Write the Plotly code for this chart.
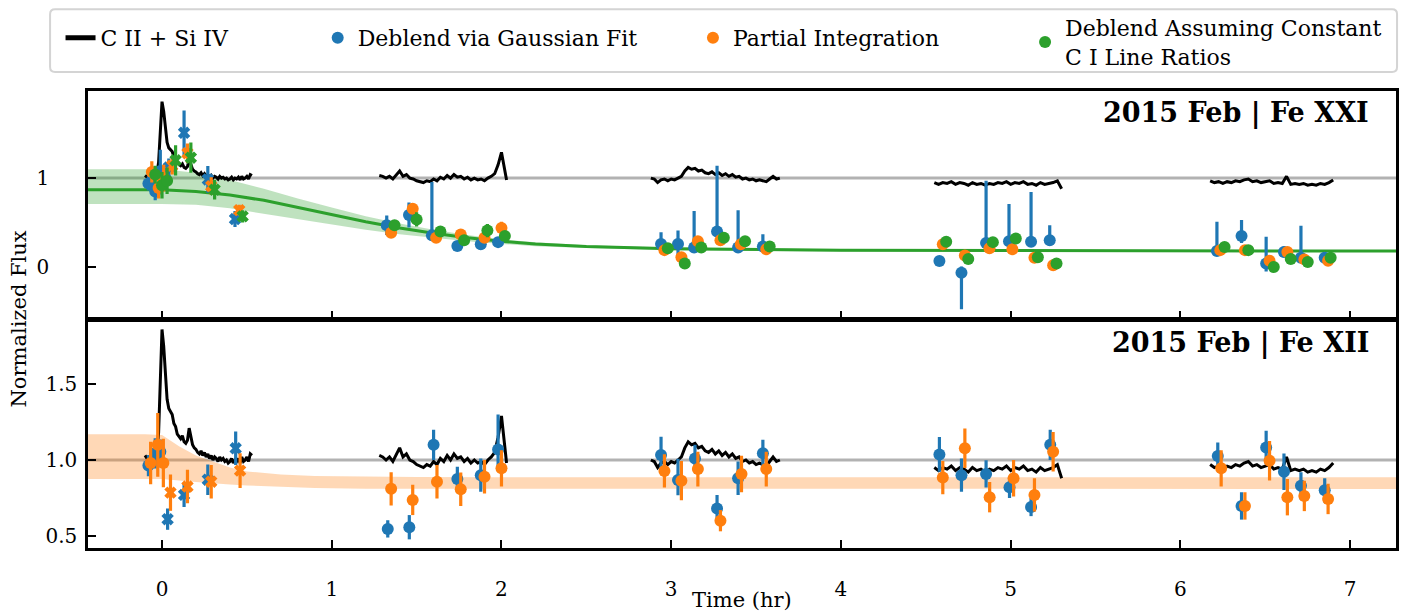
import plotly.graph_objects as go

# ---------------- data ----------------
# C II + Si IV light curve (normalized), five observing segments
lc1_t = [-0.10,-0.09,-0.08,-0.07,-0.06,-0.05,-0.04,-0.03,-0.02,-0.01,0.00,0.01,0.02,0.03,0.04,0.05,0.06,0.07,0.08,0.09,
         0.10,0.11,0.12,0.13,0.14,0.15,0.16,0.17,0.18,0.19,0.20,0.21,0.22,0.23,0.24,0.25,0.26,0.27,0.28,0.29,
         0.30,0.31,0.32,0.33,0.34,0.35,0.36,0.37,0.38,0.39,0.40,0.41,0.42,0.43,0.44,0.45,0.46,0.47,0.48,0.49,
         0.50,0.51,0.52,0.53]
lc1_f = [1.03,1.01,0.99,0.98,1.00,0.99,1.01,1.05,1.18,1.55,1.86,1.75,1.55,1.40,1.34,1.32,1.30,1.24,1.22,1.17,
         1.15,1.14,1.16,1.12,1.11,1.13,1.21,1.14,1.10,1.08,1.07,1.05,1.04,1.06,1.03,1.05,1.02,1.04,1.01,1.03,
         1.00,1.02,1.01,0.99,1.02,1.00,1.01,0.99,1.00,0.98,0.99,1.01,0.98,1.00,0.99,1.01,0.98,1.02,0.99,1.00,
         1.02,0.99,1.04,1.03]
lc2_t = [1.28,1.30,1.32,1.34,1.36,1.38,1.40,1.42,1.44,1.46,1.48,1.50,1.52,1.54,1.56,1.58,1.60,1.62,1.64,1.66,
         1.68,1.70,1.72,1.74,1.76,1.78,1.80,1.82,1.84,1.86,1.88,1.90,1.92,1.94,1.96,1.98,2.00,2.02,2.03]
lc2_f = [1.03,1.02,1.00,1.02,0.99,1.04,1.08,1.02,1.04,1.00,0.99,0.97,0.96,0.95,0.97,0.96,0.99,0.97,1.01,0.99,
         1.03,1.00,1.04,1.01,1.02,0.99,1.01,0.98,1.00,0.98,0.99,0.97,1.00,1.02,1.05,1.15,1.29,1.10,0.98]
lc3_t = [2.88,2.90,2.92,2.94,2.96,2.98,3.00,3.02,3.04,3.06,3.08,3.10,3.12,3.14,3.16,3.18,3.20,3.22,3.24,3.26,
         3.28,3.30,3.32,3.34,3.36,3.38,3.40,3.42,3.44,3.46,3.48,3.50,3.52,3.54,3.56,3.58,3.60,3.62,3.64]
lc3_f = [1.00,0.99,0.95,0.98,0.99,0.97,0.99,0.98,1.00,1.02,1.08,1.12,1.10,1.11,1.08,1.09,1.06,1.05,1.07,1.04,
         1.06,1.03,1.05,1.02,1.04,1.01,1.02,0.99,1.00,0.98,0.99,0.97,0.98,0.97,0.96,0.99,1.02,0.99,1.00]
lc4_t = [4.550,4.575,4.600,4.625,4.650,4.675,4.700,4.725,4.750,4.775,4.800,4.825,4.850,4.875,4.900,4.925,
         4.950,4.975,5.000,5.025,5.050,5.075,5.100,5.125,5.150,5.175,5.200,5.225,5.250,5.275,5.300]
lc4_f = [0.95,0.93,0.95,0.94,0.96,0.93,0.95,0.94,0.92,0.95,0.93,0.94,0.92,0.94,0.93,0.95,
         0.94,0.96,0.93,0.95,0.94,0.96,0.93,0.94,0.92,0.95,0.93,0.94,0.95,0.97,0.88]
lc5_t = [6.175,6.200,6.225,6.250,6.275,6.300,6.325,6.350,6.375,6.400,6.425,6.450,6.475,6.500,6.525,
         6.550,6.575,6.600,6.625,6.650,6.675,6.700,6.725,6.750,6.775,6.800,6.825,6.850,6.875,6.900]
lc5_f = [0.97,0.95,0.96,0.94,0.96,0.95,0.97,0.96,0.98,0.99,0.96,0.97,0.95,0.96,0.97,
         0.94,0.95,0.94,1.02,0.93,0.94,0.93,0.94,0.92,0.93,0.92,0.94,0.93,0.95,0.98]

# Fe XXI model fit (green) and its uncertainty band
fit21_t   = [-0.44,-0.2,0.0,0.2,0.4,0.6,0.8,1.0,1.2,1.4,1.6,1.8,2.0,2.2,2.5,3.0,3.5,4.0,5.0,6.0,7.27]
fit21_f   = [0.87,0.87,0.87,0.85,0.81,0.75,0.67,0.59,0.51,0.44,0.38,0.33,0.29,0.26,0.23,0.205,0.195,0.19,0.185,0.18,0.18]
fit21_hi  = [1.10,1.10,1.10,1.06,0.98,0.88,0.77,0.67,0.57,0.49,0.42,0.36,0.31,0.28,0.245,0.22,0.21,0.20,0.195,0.19,0.19]
fit21_lo  = [0.71,0.71,0.71,0.70,0.66,0.60,0.54,0.48,0.42,0.37,0.33,0.29,0.26,0.235,0.215,0.19,0.18,0.175,0.17,0.17,0.17]
# Fe XII model band (orange)
fit12_t   = [-0.44,-0.1,0.0,0.1,0.2,0.3,0.4,0.5,0.7,0.9,1.2,1.5,2.0,3.0,7.27]
fit12_hi  = [1.17,1.17,1.165,1.09,1.03,0.99,0.95,0.925,0.905,0.895,0.89,0.888,0.886,0.886,0.886]
fit12_lo  = [0.875,0.875,0.874,0.865,0.855,0.845,0.838,0.832,0.822,0.815,0.811,0.81,0.809,0.809,0.809]

# ---- Fe XXI points ----
fe21_gauss_t  = [-0.08,-0.04,-0.01,0.02,1.324,1.455,1.59,1.74,1.878,1.98,2.94,3.04,3.135,3.27,3.394,3.54,
                 4.58,4.71,4.855,4.99,5.12,5.23,6.215,6.36,6.505,6.61,6.71,6.85]
fe21_gauss_f  = [0.94,0.85,1.08,1.00,0.47,0.585,0.356,0.236,0.255,0.28,0.26,0.26,0.22,0.40,0.22,0.23,
                 0.067,-0.064,0.27,0.29,0.285,0.30,0.18,0.35,0.04,0.17,0.105,0.105]
fe21_gauss_up = [0.08,0.10,0.24,0.12,0.11,0.14,0.60,0.03,0.03,0.05,0.13,0.15,0.41,0.74,0.42,0.14,
                 0.05,0.07,0.70,0.42,0.56,0.17,0.33,0.18,0.30,0.06,0.36,0.04]
fe21_gauss_dn = [0.08,0.10,0.24,0.12,0.11,0.14,0.02,0.03,0.03,0.05,0.04,0.15,0.02,0.03,0.02,0.02,
                 0.05,0.41,0.02,0.02,0.02,0.02,0.02,0.08,0.09,0.06,0.02,0.04]
fe21_gauss_early_t = [0.04,0.13,0.27,0.43]
fe21_gauss_early_f = [1.12,1.51,0.985,0.54]
fe21_gauss_early_e = [0.10,0.25,0.15,0.09]

fe21_part_t = [-0.06,-0.02,0.01,1.35,1.477,1.615,1.76,1.90,2.00,2.96,3.06,3.157,3.29,3.41,3.56,
               4.60,4.73,4.875,5.01,5.14,5.25,6.235,6.38,6.525,6.63,6.73,6.87]
fe21_part_f = [1.07,0.89,1.00,0.385,0.655,0.33,0.367,0.33,0.44,0.19,0.11,0.29,0.30,0.255,0.20,
               0.255,0.13,0.21,0.20,0.105,0.02,0.19,0.19,0.07,0.17,0.086,0.07]
fe21_part_e = [0.12,0.12,0.15,0.04,0.05,0.03,0.04,0.03,0.07,0.03,0.03,0.03,0.03,0.03,0.03,
               0.03,0.03,0.03,0.03,0.03,0.03,0.03,0.03,0.03,0.03,0.03,0.03]
fe21_part_early_t = [0.06,0.15,0.29,0.455]
fe21_part_early_f = [1.14,1.28,0.91,0.64]
fe21_part_early_e = [0.10,0.11,0.10,0.06]

fe21_ratio_t = [-0.04,0.00,0.03,1.37,1.50,1.64,1.78,1.917,2.02,2.98,3.08,3.177,3.31,3.435,3.58,
                4.62,4.75,4.895,5.03,5.16,5.27,6.26,6.40,6.55,6.65,6.75,6.885]
fe21_ratio_f = [1.04,0.92,0.97,0.47,0.535,0.40,0.30,0.41,0.35,0.21,0.04,0.22,0.33,0.29,0.23,
                0.285,0.09,0.28,0.32,0.11,0.04,0.225,0.19,0.00,0.09,0.056,0.105]
fe21_ratio_e = [0.10,0.15,0.15,0.06,0.08,0.04,0.03,0.075,0.04,0.03,0.05,0.03,0.03,0.03,0.03,
                0.03,0.03,0.03,0.03,0.03,0.03,0.03,0.03,0.03,0.03,0.03,0.03]
fe21_ratio_early_t = [0.08,0.17,0.31,0.475]
fe21_ratio_early_f = [1.20,1.23,0.87,0.57]
fe21_ratio_early_e = [0.17,0.17,0.11,0.07]

# ---- Fe XII points ----
fe12_gauss_t  = [-0.08,-0.04,-0.01,1.33,1.457,1.60,1.74,1.878,1.98,2.94,3.04,3.14,3.27,3.394,3.54,
                 4.58,4.71,4.855,4.993,5.12,5.233,6.22,6.36,6.505,6.61,6.71,6.85]
fe12_gauss_f  = [0.963,1.044,1.055,0.546,0.557,1.10,0.875,0.90,1.07,1.033,0.868,1.01,0.68,0.88,1.044,
                 1.037,0.90,0.908,0.82,0.69,1.10,1.026,0.697,1.083,0.923,0.83,0.80]
fe12_gauss_up = [0.07,0.10,0.08,0.057,0.08,0.10,0.08,0.11,0.23,0.12,0.14,0.09,0.09,0.11,0.09,
                 0.115,0.11,0.09,0.07,0.06,0.10,0.09,0.09,0.11,0.12,0.09,0.08]
fe12_gauss_dn = [0.07,0.10,0.08,0.057,0.08,0.10,0.08,0.11,0.11,0.10,0.10,0.09,0.09,0.11,0.09,
                 0.115,0.11,0.09,0.07,0.06,0.10,0.09,0.09,0.11,0.12,0.09,0.08]
fe12_gauss_early_t = [0.033,0.13,0.27,0.434]
fe12_gauss_early_f = [0.61,0.77,0.87,1.077]
fe12_gauss_early_e = [0.07,0.08,0.10,0.11]

fe12_part_t = [-0.067,-0.025,0.008,1.35,1.477,1.62,1.76,1.90,2.00,2.96,3.06,3.157,3.29,3.414,3.56,
               4.60,4.73,4.876,5.017,5.14,5.25,6.24,6.38,6.525,6.63,6.73,6.87]
fe12_part_f = [0.98,1.10,0.98,0.81,0.737,0.857,0.807,0.89,0.945,0.928,0.864,0.94,0.60,0.908,0.94,
               0.884,1.077,0.755,0.88,0.77,1.055,0.945,0.697,0.995,0.755,0.763,0.743]
fe12_part_e = [0.14,0.21,0.16,0.11,0.10,0.11,0.11,0.11,0.12,0.11,0.13,0.115,0.07,0.12,0.115,
               0.11,0.13,0.10,0.12,0.11,0.13,0.12,0.09,0.13,0.12,0.10,0.10]
fe12_part_early_t = [0.05,0.15,0.29,0.46]
fe12_part_early_f = [0.785,0.825,0.857,0.93]
fe12_part_early_e = [0.12,0.11,0.11,0.115]

x_ticks = [0, 1, 2, 3, 4, 5, 6, 7]
y21_ticks = [0, 1]
y12_ticks = [0.5, 1.0, 1.5]
y12_ticktext = ["0.5", "1.0", "1.5"]
panel_titles = ["2015 Feb | Fe XXI", "2015 Feb | Fe XII"]
legend_names = ["C II + Si IV", "Deblend via Gaussian Fit", "Partial Integration",
                "Deblend Assuming Constant<br>C I Line Ratios"]

# ---------------- style ----------------
FONT = "DejaVu Serif"
BLUE, ORANGE, GREEN = "#1f77b4", "#ff7f0e", "#2ca02c"
X_RANGE = [-0.436, 7.27]
DOT = 12
CROSS = 11

fig = go.Figure()

def seg_join(ts, fs):
    xs, ys = [], []
    for t, f in zip(ts, fs):
        xs += list(t) + [None]
        ys += list(f) + [None]
    return xs, ys

lc_x, lc_y = seg_join([lc1_t, lc2_t, lc3_t, lc4_t, lc5_t], [lc1_f, lc2_f, lc3_f, lc4_f, lc5_f])

def band(t, hi, lo, color, xa, ya):
    fig.add_trace(go.Scatter(x=list(t) + list(t)[::-1], y=list(hi) + list(lo)[::-1],
                             fill="toself", fillcolor=color, line=dict(width=0),
                             mode="lines", hoverinfo="skip", showlegend=False, xaxis=xa, yaxis=ya))

def points(t, f, up, dn, color, symbol, size, xa, ya, name=None, legend=None):
    fig.add_trace(go.Scatter(
        x=t, y=f, mode="markers", name=name or "",
        marker=dict(color=color, symbol=symbol, size=size, line=dict(width=0)),
        error_y=dict(type="data", symmetric=False, array=up, arrayminus=dn,
                     color=color, thickness=3.2, width=0),
        showlegend=name is not None, legend=legend or "legend",
        xaxis=xa, yaxis=ya))

# ---- top panel (Fe XXI) ----
band(fit21_t, fit21_hi, fit21_lo, "rgba(44,160,44,0.3)", "x", "y")
fig.add_trace(go.Scatter(x=fit21_t, y=fit21_f, mode="lines", line=dict(color=GREEN, width=3),
                         showlegend=False, xaxis="x", yaxis="y"))
fig.add_trace(go.Scatter(x=lc_x, y=lc_y, mode="lines", line=dict(color="black", width=3),
                         name=legend_names[0], legend="legend", showlegend=True,
                         connectgaps=False, xaxis="x", yaxis="y"))
points(fe21_gauss_t, fe21_gauss_f, fe21_gauss_up, fe21_gauss_dn, BLUE, "circle", DOT, "x", "y",
       legend_names[1], "legend2")
points(fe21_gauss_early_t, fe21_gauss_early_f, fe21_gauss_early_e, fe21_gauss_early_e, BLUE, "x", CROSS, "x", "y")
points(fe21_part_t, fe21_part_f, fe21_part_e, fe21_part_e, ORANGE, "circle", DOT, "x", "y",
       legend_names[2], "legend3")
points(fe21_part_early_t, fe21_part_early_f, fe21_part_early_e, fe21_part_early_e, ORANGE, "x", CROSS, "x", "y")
points(fe21_ratio_t, fe21_ratio_f, fe21_ratio_e, fe21_ratio_e, GREEN, "circle", DOT, "x", "y",
       legend_names[3], "legend4")
points(fe21_ratio_early_t, fe21_ratio_early_f, fe21_ratio_early_e, fe21_ratio_early_e, GREEN, "x", CROSS, "x", "y")

# ---- bottom panel (Fe XII) ----
band(fit12_t, fit12_hi, fit12_lo, "rgba(255,127,14,0.3)", "x2", "y2")
fig.add_trace(go.Scatter(x=lc_x, y=lc_y, mode="lines", line=dict(color="black", width=3),
                         showlegend=False, connectgaps=False, xaxis="x2", yaxis="y2"))
points(fe12_gauss_t, fe12_gauss_f, fe12_gauss_up, fe12_gauss_dn, BLUE, "circle", DOT, "x2", "y2")
points(fe12_gauss_early_t, fe12_gauss_early_f, fe12_gauss_early_e, fe12_gauss_early_e, BLUE, "x", CROSS, "x2", "y2")
points(fe12_part_t, fe12_part_f, fe12_part_e, fe12_part_e, ORANGE, "circle", DOT, "x2", "y2")
points(fe12_part_early_t, fe12_part_early_f, fe12_part_early_e, fe12_part_early_e, ORANGE, "x", CROSS, "x2", "y2")

# ---------------- layout ----------------
axis_common = dict(showline=True, linecolor="black", linewidth=2.5, mirror=True,
                   ticks="inside", ticklen=8, tickwidth=2, tickcolor="black",
                   showgrid=False, zeroline=False, automargin=False,
                   tickfont=dict(family=FONT, size=20, color="black"))

fig.update_layout(
    width=1404, height=614,
    margin=dict(l=88, r=8, t=90, b=66),
    plot_bgcolor="white", paper_bgcolor="white",
    font=dict(family=FONT, color="black"),
    xaxis=dict(domain=[0, 1], anchor="y", range=X_RANGE, tickvals=x_ticks,
               showticklabels=False, **axis_common),
    yaxis=dict(domain=[0.502, 1], anchor="x", range=[-0.58, 1.98], tickvals=y21_ticks,
               ticklabelstandoff=32, **axis_common),
    xaxis2=dict(domain=[0, 1], anchor="y2", range=X_RANGE, tickvals=x_ticks,
                matches="x", ticklabelstandoff=21, **axis_common),
    yaxis2=dict(domain=[0, 0.498], anchor="x2", range=[0.42, 1.92], tickvals=y12_ticks,
                ticktext=y12_ticktext, ticklabelstandoff=4, **axis_common),
    showlegend=True,
)

leg_common = dict(orientation="h", yanchor="middle", xanchor="left",
                  bgcolor="rgba(0,0,0,0)", borderwidth=0, itemsizing="constant",
                  valign="middle", font=dict(family=FONT, size=22, color="black"))
fig.update_layout(
    legend=dict(x=-0.021, y=1.1135, **leg_common),
    legend2=dict(x=0.1756, y=1.1135, **leg_common),
    legend3=dict(x=0.4625, y=1.1135, **leg_common),
    legend4=dict(x=0.7164, y=1.104, **leg_common),
)

# reference lines at unity
for xr, yr in [("x domain", "y"), ("x2 domain", "y2")]:
    fig.add_shape(type="line", xref=xr, yref=yr, x0=0, x1=1, y0=1, y1=1,
                  line=dict(color="rgba(0,0,0,0.3)", width=3), layer="below")

# legend frame (rounded)
x0, x1, y0, y1 = -0.029, 1.0008, 1.0415, 1.179
rx, ry = 5 / 1308, 5 / 458
path = (f"M {x0+rx},{y0} L {x1-rx},{y0} Q {x1},{y0} {x1},{y0+ry} L {x1},{y1-ry} "
        f"Q {x1},{y1} {x1-rx},{y1} L {x0+rx},{y1} Q {x0},{y1} {x0},{y1-ry} "
        f"L {x0},{y0+ry} Q {x0},{y0} {x0+rx},{y0} Z")
fig.add_shape(type="path", path=path, xref="paper", yref="paper",
              line=dict(color="#d4d4d4", width=2), fillcolor="rgba(255,255,255,0.8)", layer="below")

# panel titles
for xr, yr, txt in [("x domain", "y domain", panel_titles[0]), ("x2 domain", "y2 domain", panel_titles[1])]:
    fig.add_annotation(xref=xr, yref=yr, x=0.981, y=0.902, xanchor="right", yanchor="middle",
                       text=f"<b>{txt}</b>", showarrow=False,
                       font=dict(family=FONT, size=27, color="black"))

# axis titles
fig.add_annotation(xref="paper", yref="paper", x=-0.0535, y=0.5, xanchor="center", yanchor="middle",
                   text="Normalized Flux", textangle=-90, showarrow=False,
                   font=dict(family=FONT, size=21, color="black"))
fig.add_annotation(xref="paper", yref="paper", x=0.5, y=-0.1135, xanchor="center", yanchor="middle",
                   text="Time (hr)", showarrow=False,
                   font=dict(family=FONT, size=21, color="black"))

fig.write_html("out.html", config={"displayModeBar": False},
               post_script="document.body.style.margin='0px';")
